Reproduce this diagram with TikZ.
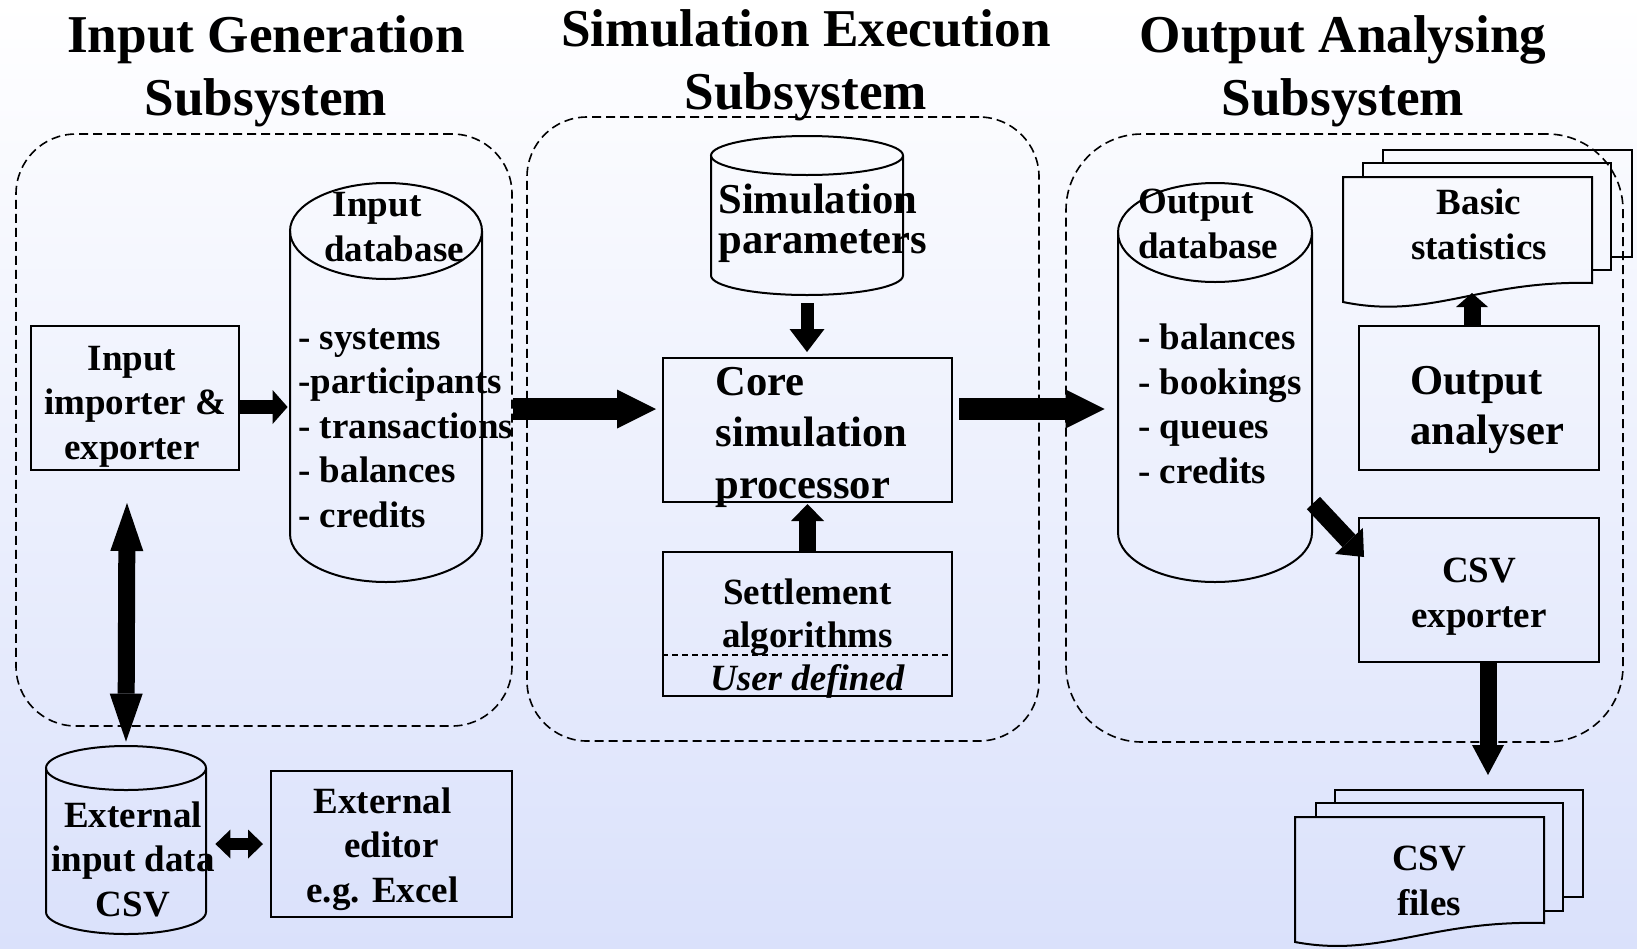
\documentclass[tikz,border=0pt]{standalone}
\usepackage{fontspec}
\setmainfont{Liberation Serif}
\usetikzlibrary{arrows.meta,calc}
\definecolor{bgbot}{RGB}{218,225,251}
\newcommand\fbody{\fontsize{18.5pt}{22.2pt}\selectfont\bfseries}
\newcommand\fbig{\fontsize{21.3pt}{25.75pt}\selectfont\bfseries}
\newcommand\fbigB{\fontsize{21.3pt}{25pt}\selectfont\bfseries}
\newcommand\fsim{\fontsize{21.3pt}{20pt}\selectfont\bfseries}
\newcommand\fset{\fontsize{18.5pt}{21.5pt}\selectfont\bfseries}
\newcommand\ftitle{\fontsize{26.6pt}{31.5pt}\selectfont\bfseries}
\tikzset{
  box/.style={draw, line width=1pt, inner sep=0pt, font=\fbody, align=center, text depth=0pt},
  grp/.style={draw, line width=0.8pt, dash pattern=on 4.5pt off 2.5pt, rounded corners=30pt, inner sep=0pt},
  shp/.style={draw, line width=1pt},
  txt/.style={inner sep=0pt, font=\fbody},
  ttl/.style={inner sep=0pt, font=\ftitle, align=center},
  blk/.style n args={3}{line width=#1, -{Triangle[length=#2,width=#3,line width=0pt]}},
  dblk/.style n args={3}{line width=#1, {Triangle[length=#2,width=#3,line width=0pt]}-{Triangle[length=#2,width=#3,line width=0pt]}},
}
\newcommand\dbcyl[6]{%
  \node[inner sep=0pt, minimum width={2*#3pt}, minimum height={(#5-#4)*0.5pt+2*#6pt}] (#1) at (#2,{(#4+#5)/2}) {};
  \draw[shp] (#2,#4) ellipse [x radius=#3pt, y radius=#6pt];
  \draw[shp] ([xshift=-#3pt]#2,#4) -- ([xshift=-#3pt]#2,#5) arc[start angle=180, end angle=360, x radius=#3pt, y radius=#6pt] -- ([xshift=#3pt]#2,#4);
}
\begin{document}
\begin{tikzpicture}[x=0.5pt,y=-0.5pt]
\useasboundingbox (0,0) rectangle (1637,948);
\shade[top color=white, bottom color=bgbot] (0,0) rectangle (1637,948);

% subsystem groups
\node[grp, minimum width=248pt, minimum height=296pt] (grpL) at (264,430) {};
\node[grp, minimum width=256pt, minimum height=312pt] (grpM) at (783,429) {};
\node[grp, rounded corners=38pt, minimum width=278.5pt, minimum height=304pt] (grpR) at (1344.5,438) {};

% titles (anchor base = last line)
\node[ttl, anchor=base] (tL) at (266,115) {Input Generation\\Subsystem};
\node[ttl, anchor=base] (tM) at (806,109) {Simulation Execution\\Subsystem};
\node[ttl, anchor=base] (tR) at (1343,115) {Output Analysing\\Subsystem};

% cylinders
\dbcyl{indb}{386}{48}{231}{534}{24}
\dbcyl{simpar}{807}{48}{155.5}{275.5}{9.75}
\dbcyl{ext}{126}{40}{768}{912}{11}
\dbcyl{outdb}{1215}{48.5}{232.5}{532.5}{24.75}

\node[txt, align=center, anchor=base] (indbT) at (394,261) {Input\hspace*{16.8pt}\\database};
\node[txt, align=left, anchor=base west] (indbL) at (298,527) {- systems\\-participants\\- transactions\\- balances\\- credits};
\node[txt, align=left, anchor=base west, font=\fsim] (simparT) at (718,253) {Simulation\\parameters};
\node[txt, align=center, anchor=base] (extT) at (133,916) {External\\input data\\CSV};
\node[txt, align=left, anchor=base west] (outdbT) at (1138,258) {Output\\database};
\node[txt, align=left, anchor=base west] (outdbL) at (1138,483) {- balances\\- bookings\\- queues\\- credits};

% boxes
\node[box, minimum width=104pt, minimum height=72pt, text height=61pt] (imp) at (135,398) {Input\hspace*{3pt}\\importer \&\hspace*{3pt}\\exporter\hspace*{3pt}};
\node[box, align=left, font=\fbig, minimum width=144.5pt, minimum height=72pt, text height=68pt] (core) at (807.5,430) {\hspace*{4pt}Core\\\hspace*{4pt}simulation\\\hspace*{4pt}processor};
\node[box, font=\fset, minimum width=144.5pt, minimum height=72pt, text height=66pt] (settle) at (807.5,624) {Settlement\\algorithms\\\textit{User defined}};
\coordinate (sdl) at (663,655);
\draw[line width=0.6pt, dash pattern=on 3pt off 2pt] (settle.west |- sdl) -- (settle.east |- sdl);
\node[box, minimum width=120.5pt, minimum height=73pt, text height=58pt] (edit) at (391.5,844) {External\hspace*{9pt}\\editor\hspace*{9pt}\\e.g. Excel\hspace*{9pt}};
\node[box, align=left, font=\fbigB, minimum width=120pt, minimum height=72pt, text height=46pt] (outan) at (1479,398) {\hspace*{8pt}Output\\\hspace*{8pt}analyser};
\node[box, minimum width=120pt, minimum height=72pt, text height=37pt] (csvexp) at (1479,590) {CSV\\exporter};

% multi-documents
\node[inner sep=0pt, minimum width=124.5pt, minimum height=62.5pt] (stats) at (1467.5,239.5) {};
\draw[shp] (1343,177) -- (1592,177) -- (1592,283) .. controls (1480,280) and (1430,320) .. (1343,302) -- cycle;
\draw[shp] (1363,177) -- (1363,163) -- (1611,163) -- (1611,270) -- (1592,270);
\draw[shp] (1383,163) -- (1383,150) -- (1632,150) -- (1632,257) -- (1611,257);
\node[txt, align=center, anchor=base] (statsT) at (1479,259) {Basic\\statistics};

\node[inner sep=0pt, minimum width=124.5pt, minimum height=62.5pt] (files) at (1419.5,879.5) {};
\draw[shp] (1295,817) -- (1544,817) -- (1544,923) .. controls (1430,920) and (1380,958) .. (1295,942) -- cycle;
\draw[shp] (1316,817) -- (1316,803) -- (1563,803) -- (1563,911) -- (1544,911);
\draw[shp] (1335,803) -- (1335,790) -- (1583,790) -- (1583,897) -- (1563,897);
\node[txt, align=center, anchor=base] (filesT) at (1429,915) {CSV\\files};

% connectors
\draw[blk={7pt}{7.5pt}{17pt}] ([yshift=-4.5pt]imp.east) -- ([yshift=-4.5pt,xshift=-1pt]imp.east -| indb.west);
\draw[blk={11pt}{19.5pt}{19.5pt}] ([yshift=10.5pt]core.west -| grpL.east) -- ([xshift=-3pt,yshift=10.5pt]core.west);
\draw[blk={11pt}{19.5pt}{19.5pt}] ([xshift=3pt,yshift=10.5pt]core.east) -- ([xshift=-6.5pt,yshift=10.5pt]core.east -| outdb.west);
\draw[blk={6.5pt}{11.5pt}{17.5pt}] ([yshift=-4pt]simpar.south) -- ([yshift=2.5pt]core.north -| simpar.south);
\draw[blk={8.5pt}{8.5pt}{16.5pt}] (settle.north) -- ([yshift=-0.5pt]core.south);
\draw[dblk={8.5pt}{24pt}{16.5pt}] ([xshift=-4pt,yshift=-16pt]imp.south) -- ([yshift=2pt]ext.north);
\draw[dblk={6pt}{7.5pt}{14.5pt}] ([xshift=4.5pt]ext.east |- edit.west) -- ([xshift=-3.5pt]edit.west);
\coordinate (stin) at (1472,293);
\draw[blk={8.5pt}{7pt}{16pt}] (outan.north -| stin) -- (stin);
\draw[blk={9pt}{11pt}{19pt}] ([xshift=0.5pt,yshift=-60.25pt]outdb.east) -- ([xshift=3pt,yshift=-20pt]csvexp.north west);
\coordinate (fin) at (1488,775);
\draw[blk={8.5pt}{15pt}{16pt}] (csvexp.south -| fin) -- (fin);
\end{tikzpicture}
\end{document}
